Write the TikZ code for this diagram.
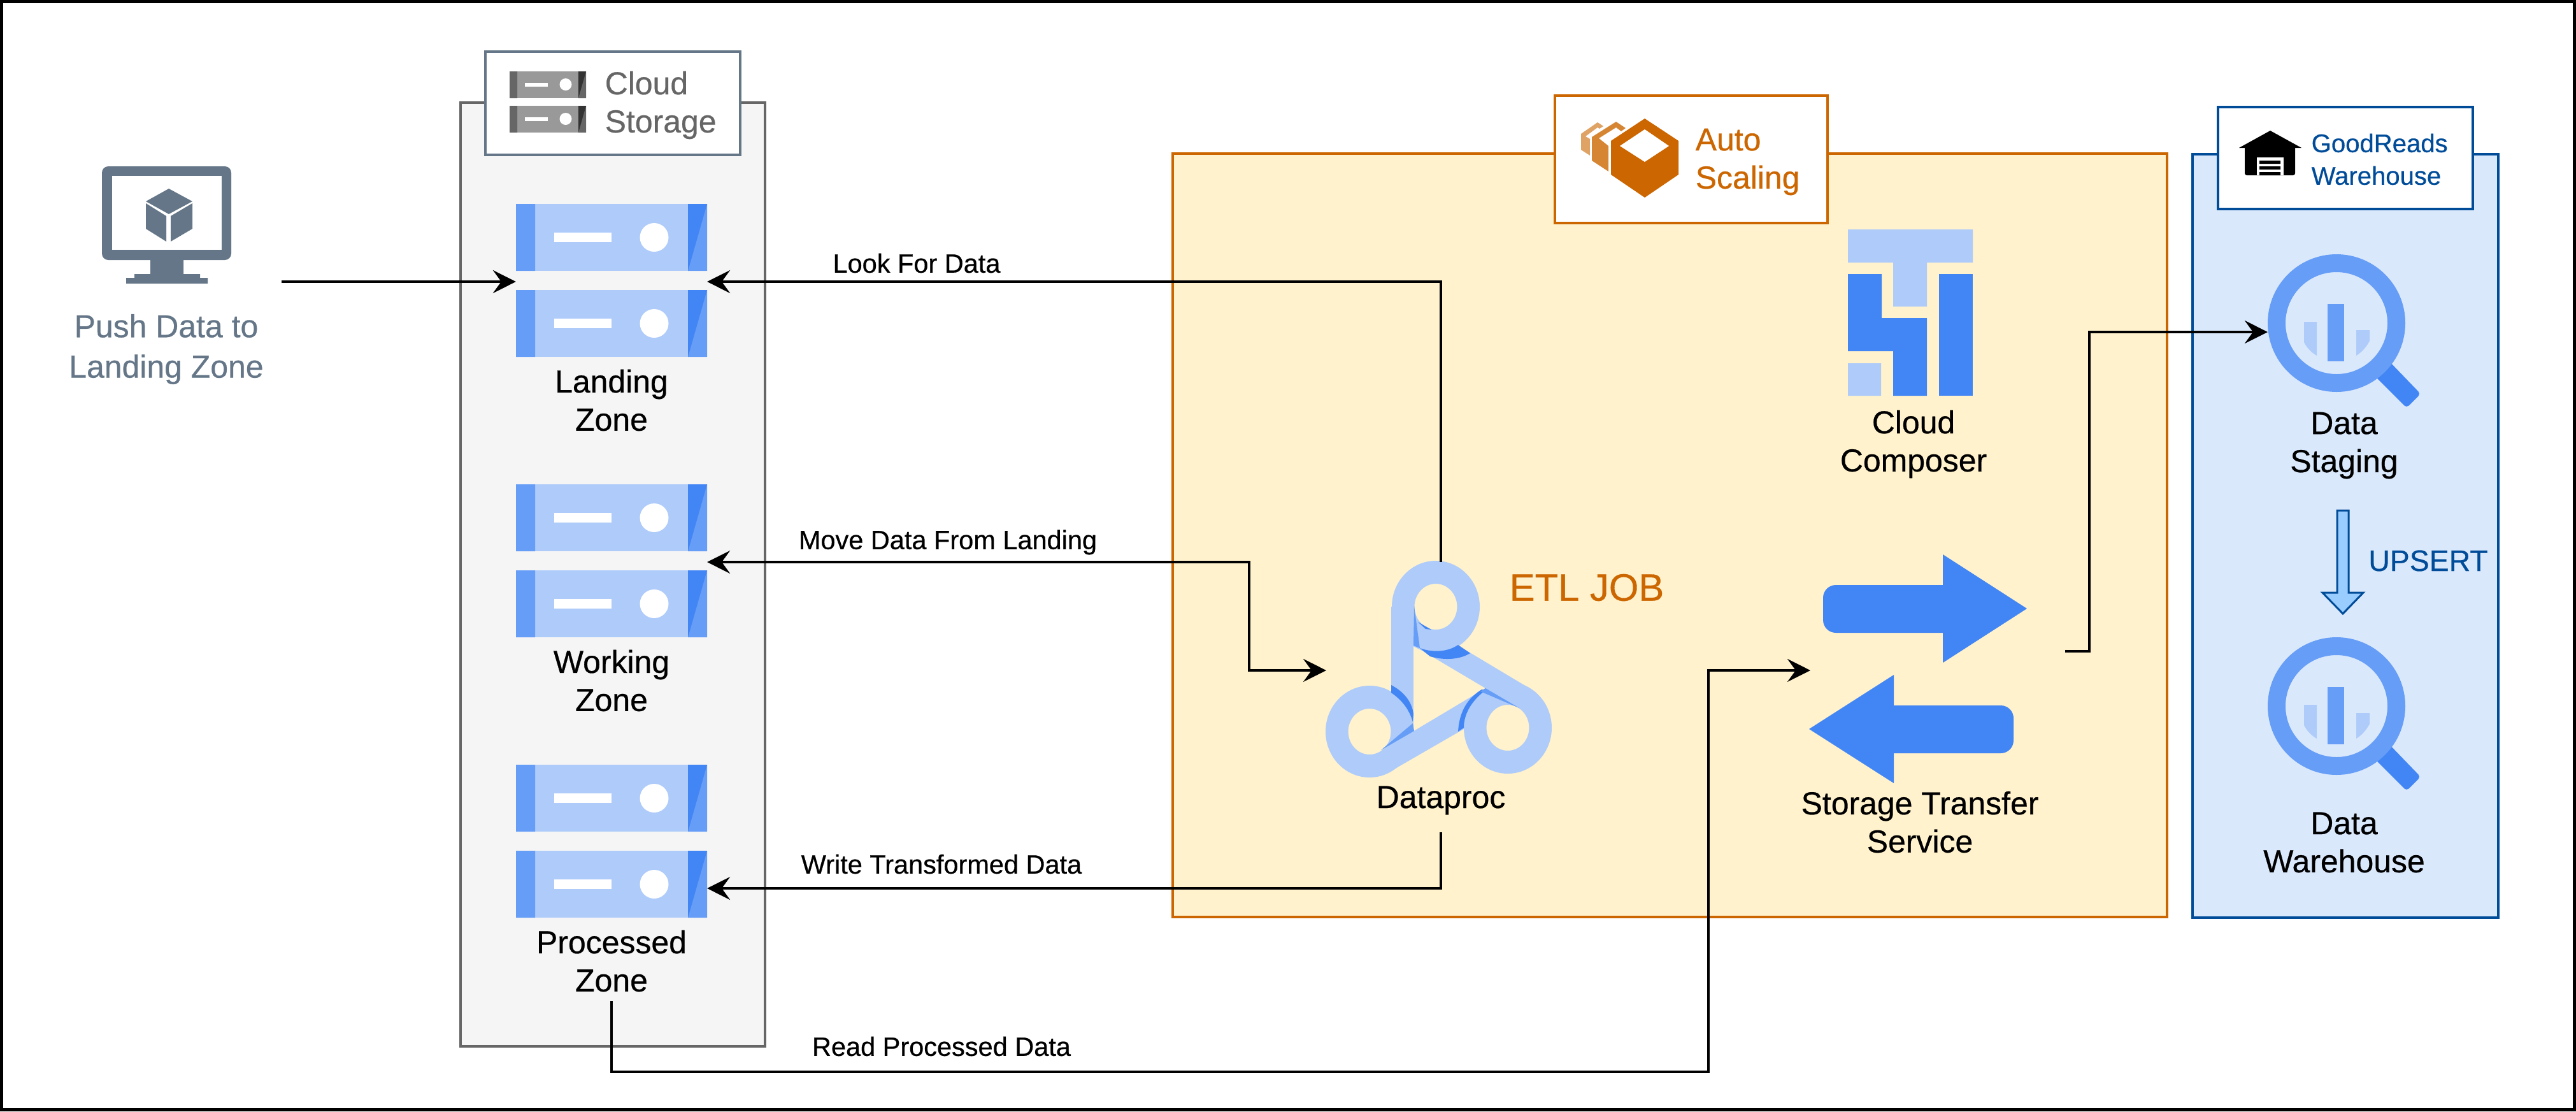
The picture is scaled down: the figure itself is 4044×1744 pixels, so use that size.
\documentclass[tikz,border=0pt]{standalone}
\usepackage{fontspec}
\setmainfont[FakeBold=0.5]{Liberation Sans}
\usetikzlibrary{arrows.meta,positioning}
\definecolor{gblue}{HTML}{4285F4}
\definecolor{mblue}{HTML}{669DF6}
\definecolor{lblue}{HTML}{AECBFA}
\definecolor{wblue}{HTML}{004C99}
\definecolor{skyfill}{HTML}{99CCFF}
\definecolor{orng}{HTML}{CC6600}
\definecolor{slate}{HTML}{647687}
\definecolor{etlfill}{HTML}{FFF2CC}
\definecolor{dwfill}{HTML}{DAE8FC}
\begin{document}
\begin{tikzpicture}[x=0.01cm,y=-0.01cm,
  bigtext/.style={align=center,inner sep=0,font=\fontsize{14.2}{17}\selectfont},
  flowtext/.style={inner sep=0,font=\fontsize{11.8}{14}\selectfont},
  spot/.style={inner sep=0,outer sep=0,minimum width=#1},
  flow/.style={line width=1pt,-{Stealth[length=0.36cm,width=0.36cm,inset=0.13cm]}},
  bothflow/.style={line width=1pt,{Stealth[length=0.36cm,width=0.36cm,inset=0.13cm]}-{Stealth[length=0.36cm,width=0.36cm,inset=0.13cm]}}]
\useasboundingbox (0,0) rectangle (4044,1744);
\draw[line width=0.05cm] (2.5,2.5) rectangle (4041.5,1741.5);
% boxes
\draw[line width=0.045cm,draw=black!60,fill=black!4] (723,161) rectangle (1201,1642);
\draw[line width=0.04cm,draw=orng,fill=etlfill] (1841,241) rectangle (3402,1439);
\draw[line width=0.04cm,draw=wblue,fill=dwfill] (3442,242) rectangle (3922,1440);
\draw[line width=0.04cm,draw=slate,fill=white] (762,81) rectangle (1162,243);
\draw[line width=0.04cm,draw=orng,fill=white] (2441,150) rectangle (2869,350);
\draw[line width=0.04cm,draw=wblue,fill=white] (3482,168) rectangle (3882,328);
% monitor
\fill[slate,rounded corners=0.1cm] (160,261) rectangle (363,408);
\fill[white] (176,276) rectangle (348,392);
\fill[slate] (236,405) rectangle (288,432) (211,430) rectangle (314,437) (198,436) rectangle (326,445);
\fill[slate] (265,296) -- (302,316) -- (265,336) -- (229,316) -- cycle;
\fill[slate] (229,319) -- (261,339) -- (261,379) -- (229,359) -- cycle;
\fill[slate] (268,339) -- (302,319) -- (302,359) -- (268,379) -- cycle;
% small storage icon
\foreach \y in {112,166} {
  \fill[black!40] (800,\y) rectangle (920,\y+42);
  \fill[black!60] (800,\y) rectangle (812,\y+42) (908,\y) rectangle (920,\y+42);
  \fill[black!80] (908,\y) -- (920,\y) -- (908,\y+42) -- cycle;
  \fill[white] (824,\y+17.5) rectangle (860,\y+24);
  \fill[white] (888,\y+20.5) circle (9.5);
}
% servers
\foreach \y in {320,455,760,895,1200,1335} {
  \fill[lblue] (810,\y) rectangle (1110,\y+105);
  \fill[mblue] (810,\y) rectangle (840,\y+105) (1080,\y) rectangle (1110,\y+105);
  \fill[gblue] (1080,\y) -- (1110,\y) -- (1080,\y+105) -- cycle;
  \fill[white] (870,\y+45) rectangle (960,\y+60);
  \fill[white] (1027,\y+52.5) circle (22.5);
}
% dataproc
\fill[lblue] (2184,952) rectangle (2219,1150);
\fill[lblue] (2219,1013) -- (2289,1013) -- (2401,1080) -- (2387,1108) -- (2332,1080) -- cycle;
\fill[lblue] (2332,1080) -- (2298,1144) -- (2187,1208) -- (2168,1180) -- (2218,1148) -- cycle;
\foreach \cx/\cy in {2254/952,2150/1148,2367/1142}
  \fill[lblue,even odd rule] (\cx,\cy) ellipse (69 and 72) (\cx,\cy) ellipse (33.5 and 36);
\fill[gblue] (2229,1017) .. controls (2245,1023) and (2270,1025) .. (2289,1012) -- (2308,1025) .. controls (2290,1036) and (2265,1036) .. (2245,1030) -- cycle;
\fill[gblue] (2184,1075) .. controls (2203,1085) and (2216,1100) .. (2219,1120) -- (2218,1133) .. controls (2212,1112) and (2200,1098) .. (2184,1087) -- cycle;
\fill[gblue] (2326,1082) .. controls (2305,1095) and (2291,1115) .. (2289,1148) -- (2298,1142) .. controls (2298,1120) and (2310,1100) .. (2332,1083) -- cycle;
\fill[gblue] (2226,976) -- (2247,988) -- (2238,987) -- cycle;
\fill[mblue] (2220,951) -- (2229,1017) -- (2219,1013) -- cycle;
\fill[mblue] (2218,1135) -- (2220,1147) -- (2168,1177) -- cycle;
\fill[mblue] (2332,1080) -- (2385,1111) -- (2324,1085) -- cycle;
% auto scaling icon
\fill[orng!60] (2508,192) -- (2517,198) -- (2511,202) -- (2508,200) -- (2489,214) -- (2496,218) -- (2496,244) -- (2482,235) -- (2482,210) -- cycle;
\fill[orng!80] (2537,191) -- (2552,201) -- (2545,206) -- (2537,200) -- (2510,217) -- (2525,229) -- (2525,269) -- (2499,252) -- (2499,215) -- cycle;
\fill[orng] (2582,186) -- (2635,221) -- (2635,274) -- (2582,310) -- (2529,274) -- (2529,221) -- cycle;
\fill[white] (2582,203) -- (2620,229) -- (2582,254) -- (2543,229) -- cycle;
% composer
\fill[lblue] (2901,360) rectangle (3097,412) (2972,412) rectangle (3025,481) (2901,570) rectangle (2953,621);
\fill[gblue] (2901,430) -- (2954,430) -- (2954,499) -- (3025,499) -- (3025,621) -- (2972,621) -- (2972,551) -- (2901,551) -- cycle;
\fill[gblue] (3044,430) rectangle (3097,621);
% transfer arrows
\fill[gblue,rounded corners=0.2cm] (2862,918) rectangle (3070,993);
\fill[gblue] (3050,870) -- (3182,955) -- (3050,1040) -- cycle;
\fill[gblue,rounded corners=0.2cm] (2950,1107) rectangle (3161,1182);
\fill[gblue] (2973,1059) -- (2840,1144) -- (2973,1229) -- cycle;
% house
\fill (3515,232) -- (3564,205) -- (3613,232) -- cycle;
\fill[rounded corners=0.03cm] (3524,228) rectangle (3603,275);
\fill[white] (3543,247) rectangle (3585,275);
\fill (3547,252) rectangle (3580,257) (3547,261) rectangle (3580,266) (3547,270) rectangle (3580,275);
% magnifiers
\foreach \d in {0,601} {
  \begin{scope}[yshift=-\d*0.01cm]
  \fill[gblue,rounded corners=0.05cm] (3745,561) -- (3800,618) -- (3778,640) -- (3722,584) -- cycle;
  \fill[mblue,even odd rule] (3668,507) circle (108) (3668,507) circle (80);
  \fill[mblue] (3654,477) rectangle (3680,567);
  \fill[lblue] (3617,505) -- (3637,505) -- (3637,558) .. controls (3628,553) and (3621,545) .. (3617,537) -- cycle;
  \fill[lblue] (3699,518) -- (3720,518) -- (3720,535) .. controls (3714,546) and (3707,553) .. (3699,558) -- cycle;
  \end{scope}
}
% upsert arrow
\draw[line width=0.03cm,draw=wblue,fill=skyfill] (3669,801) -- (3687,801) -- (3687,930) -- (3710,930) -- (3678,963) -- (3646,930) -- (3669,930) -- cycle;
% anchors of the connectors
\node[spot=3cm,minimum height=2.44cm] (landing) at (960,442) {};
\node[spot=3cm,minimum height=2.38cm] (working) at (960,882) {};
\node[spot=3cm,minimum height=3.54cm] (processed) at (960,1394) {};
\node[spot=2.5cm,minimum height=4.24cm] (dataproc) at (2262,1094) {};
\node[spot=2.16cm,minimum height=2.28cm] (staging) at (3668,521) {};
\node[spot=3.62cm,minimum height=1.84cm] (pushdata) at (261,353) {};
\coordinate (pushout) at (pushdata.east |- landing.west);
\coordinate (dpin) at (2082,1052);
\coordinate (movebend) at (1961,1000);
\coordinate (readbend) at (2682,1682);
\coordinate (trin) at (2842,1052);
\coordinate (trout) at (3242,1022);
\coordinate (stgbend) at (3280,800);
% text
\node[bigtext,text=slate] (pushtext) at (261,548) {Push Data to\\[1pt]Landing Zone};
\node[bigtext,text=black!60,align=left,anchor=west] (stortext) at (949,165) {Cloud\\Storage};
\node[bigtext] (landtext) at (960,628) {Landing\\Zone};
\node[bigtext] (worktext) at (960,1068) {Working\\Zone};
\node[bigtext] (proctext) at (960,1508) {Processed\\Zone};
\node[bigtext,text=orng,align=left,anchor=west] (autotext) at (2661,254) {Auto\\Scaling};
\node[bigtext] (comptext) at (3004,697) {Cloud\\Composer};
\node[bigtext] (dptext) at (2262,1256) {Dataproc};
\node[bigtext,text=orng,font=\fontsize{17}{20}\selectfont] (etltext) at (2491,922) {ETL JOB};
\node[bigtext] (trantext) at (3014,1290) {Storage Transfer\\Service};
\node[flowtext,text=wblue,align=left,anchor=west,font=\fontsize{11.4}{14}\selectfont] (dwtext) at (3628,250) {GoodReads\\[0.5pt]Warehouse};
\node[bigtext] (stgtext) at (3680,699) {Data\\Staging};
\node[bigtext] (whtext) at (3680,1322) {Data\\Warehouse};
\node[bigtext,text=wblue,font=\fontsize{13.2}{16}\selectfont] (uptext) at (3812,880) {UPSERT};
\node[flowtext] (looktext) at (1439,413) {Look For Data};
\node[flowtext] (movetext) at (1488,851) {Move Data From Landing};
\node[flowtext] (writetext) at (1478,1356) {Write Transformed Data};
\node[flowtext] (readtext) at (1478,1642) {Read Processed Data};
% connectors
\draw[flow] (pushout) -- (landing.west);
\draw[flow] (dataproc.north) |- (landing.east);
\draw[bothflow] (working.east) -| (movebend) |- (dpin);
\draw[flow] (dataproc.south) |- (processed.east);
\draw[flow] (processed.south) |- (readbend) |- (trin);
\draw[flow] (trout) -| (stgbend) |- (staging.west);
\end{tikzpicture}
\end{document}
